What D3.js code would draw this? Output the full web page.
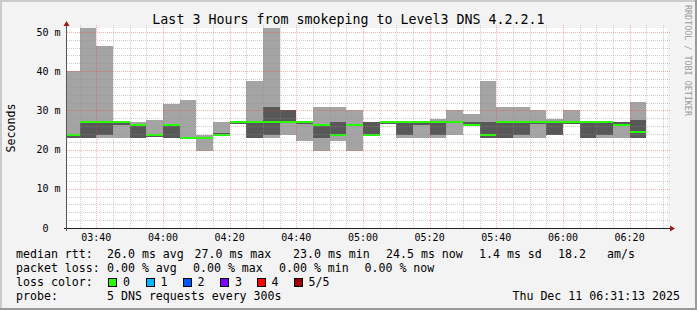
<!DOCTYPE html>
<html><head><meta charset="utf-8">
<script src="https://cdn.jsdelivr.net/npm/d3@7"></script>
<style>
body{margin:0;background:#f3f3f3}
svg{display:block}
text{font-family:"DejaVu Sans Mono",monospace;white-space:pre}
</style>
</head><body><svg id="c" width="697" height="310"></svg>
<script>
// ---- data (5 DNS requests per 300 s step; sorted ping values, ms) ----
const stepEnds = ["03:35","03:40","03:45","03:50","03:55","04:00","04:05","04:10","04:15","04:20",
  "04:25","04:30","04:35","04:40","04:45","04:50","04:55","05:00","05:05","05:10",
  "05:15","05:20","05:25","05:30","05:35","05:40","05:45","05:50","05:55","06:00",
  "06:05","06:10","06:15","06:20","06:25"];
const ping1  = [23.0,23.0,22.9,23.0,23.0,23.2,23.0,22.8,19.6,23.4, 26.4,23.0,23.0,23.7,22.3,19.6,22.3,19.6,23.4,26.4, 23.0,23.0,23.0,23.7,26.2,23.0,23.0,23.0,23.0,23.7, 26.4,23.0,23.0,23.0,23.0];
const ping2  = [23.0,23.0,23.7,26.3,23.0,23.2,23.0,22.8,22.8,23.4, 26.4,23.0,23.7,26.7,26.4,23.0,23.4,26.2,23.4,26.4, 23.7,26.3,23.7,26.8,26.2,23.0,23.0,23.7,26.4,23.7, 26.4,23.0,23.7,26.2,23.0];
const median = [23.6,27.0,27.0,27.0,26.3,23.6,26.3,23.0,23.0,23.6, 27.0,27.0,27.0,27.0,27.0,26.3,23.6,26.3,23.6,27.0, 27.0,27.0,27.0,27.0,26.3,23.6,27.0,27.0,27.0,27.0, 27.0,27.0,27.0,26.3,24.5];
const ping4  = [24.0,27.1,27.0,27.0,26.6,24.0,26.6,23.2,23.2,24.2, 27.2,27.2,30.9,30.1,27.2,26.6,27.0,26.6,27.0,27.2, 27.2,27.0,27.2,27.3,27.0,27.1,27.2,27.2,27.2,27.3, 27.2,27.2,27.2,27.1,27.6];
const ping5  = [40.0,51.5,46.4,27.2,27.0,27.6,31.6,32.6,23.6,27.0, 27.4,37.6,51.5,30.1,27.4,30.9,30.9,30.1,27.0,27.4, 27.4,27.2,27.7,30.1,29.1,37.5,30.8,30.9,30.1,27.7, 30.1,27.4,27.3,27.1,32.1];

const yTicks = [0,10,20,30,40,50];
const yTickLabels = ["0  ","10 m","20 m","30 m","40 m","50 m"];
const lossColors = ["#26ff00","#00b8ff","#0059ff","#7e00ff","#ff0000","#a10000"];
const lossLabels = ["0","1","2","3","4","5/5"];
const titleText = "Last 3 Hours from smokeping to Level3 DNS 4.2.2.1";
const rttStats = [["median rtt:",16],["26.0 ms avg",107],["27.0 ms max",194.5],["23.0 ms min",293],["24.5 ms now",386],["1.4 ms sd",479],["18.2",558],["am/s",607]];
const lossStats = [["packet loss:",16],["0.00 % avg",107],["0.00 % max",193],["0.00 % min",279],["0.00 % now",364.5]];
const lossBoxX = [108,145.5,182.5,220,256.5,293.5];

// ---- scales ----
const pt = d3.timeParse("%H:%M:%S"), pm = d3.timeParse("%H:%M");
const t0 = pt("03:31:13"), t1 = pt("06:31:13");
const x = d3.scaleTime().domain([t0,t1]).range([67,667]);
const y = d3.scaleLinear().domain([0,51]).range([228,28]);
const ends = stepEnds.map(pm);
const starts = ends.map(d => d3.timeMinute.offset(d,-5));

const svg = d3.select("#c");
// frame
svg.append("rect").attr("x",0).attr("y",0).attr("width",697).attr("height",310).attr("fill","#f3f3f3");
svg.append("rect").attr("x",0).attr("y",0).attr("width",697).attr("height",2).attr("fill","#cbcbcb");
svg.append("rect").attr("x",0).attr("y",0).attr("width",2).attr("height",310).attr("fill","#cbcbcb");
svg.append("rect").attr("x",0).attr("y",308).attr("width",697).attr("height",2).attr("fill","#999");
svg.append("rect").attr("x",695).attr("y",0).attr("width",2).attr("height",310).attr("fill","#999");

// canvas
svg.append("rect").attr("x",67).attr("y",28).attr("width",600).attr("height",200).attr("fill","#fff");
svg.append("clipPath").attr("id","cp").append("rect").attr("x",67).attr("y",28).attr("width",600).attr("height",200);

const idx = d3.range(stepEnds.length);
const g = svg.append("g").attr("clip-path","url(#cp)").attr("shape-rendering","crispEdges");
g.selectAll(".s1").data(idx).join("rect")
  .attr("x",i=>x(starts[i])).attr("width",i=>x(ends[i])-x(starts[i]))
  .attr("y",i=>y(ping5[i])).attr("height",i=>y(ping1[i])-y(ping5[i])).attr("fill","#a4a4a4");
g.selectAll(".s2").data(idx).join("rect")
  .attr("x",i=>x(starts[i])).attr("width",i=>x(ends[i])-x(starts[i]))
  .attr("y",i=>y(ping4[i])).attr("height",i=>Math.max(0,y(ping2[i])-y(ping4[i]))).attr("fill","#585858");

// grid (on top of smoke, semi-transparent)
const grid = svg.append("g").attr("shape-rendering","crispEdges");
const minorX = d3.timeMinute.every(5).range(t0,t1).filter(d=>d.getMinutes()%20!==0);
const majorX = d3.timeMinute.every(20).range(t0,t1);
const minorCol = "rgba(145,145,145,0.45)", majorCol = "rgba(255,50,50,0.4)";
grid.selectAll(".vx").data(minorX).join("line")
  .attr("x1",d=>Math.round(x(d))+0.5).attr("x2",d=>Math.round(x(d))+0.5).attr("y1",228).attr("y2",25)
  .attr("stroke",minorCol).attr("stroke-dasharray","1,1");
const minorY = d3.range(2,51,2).filter(v=>v%10!==0);
grid.selectAll(".hy").data(minorY).join("line")
  .attr("x1",67).attr("x2",670).attr("y1",d=>Math.round(y(d))+0.5).attr("y2",d=>Math.round(y(d))+0.5)
  .attr("stroke",minorCol).attr("stroke-dasharray","1,1");
grid.selectAll(".Vx").data(majorX).join("line")
  .attr("x1",d=>Math.round(x(d))+0.5).attr("x2",d=>Math.round(x(d))+0.5).attr("y1",228).attr("y2",25)
  .attr("stroke",majorCol).attr("stroke-dasharray","1,1");
grid.selectAll(".Hy").data(yTicks.filter(v=>v>0)).join("line")
  .attr("x1",67).attr("x2",670).attr("y1",d=>Math.round(y(d))+0.5).attr("y2",d=>Math.round(y(d))+0.5)
  .attr("stroke",majorCol).attr("stroke-dasharray","1,1");

// median line
g.selectAll(".md").data(idx).join("rect")
  .attr("x",i=>x(starts[i])).attr("width",i=>x(ends[i])-x(starts[i]))
  .attr("y",i=>y(median[i])-1).attr("height",2).attr("fill",lossColors[0]);

// axes
svg.append("line").attr("x1",64).attr("x2",671).attr("y1",228.5).attr("y2",228.5).attr("stroke","#222");
svg.append("line").attr("x1",66.5).attr("x2",66.5).attr("y1",231).attr("y2",25).attr("stroke","#555");
svg.append("path").attr("d","M670,225.5 L675,228.5 L670,231.5 Z").attr("fill","#9b1c1c");
svg.append("path").attr("d","M63.5,26 L66.5,21 L69.5,26 Z").attr("fill","#9b1c1c");

// tick labels
svg.selectAll(".xl").data(majorX).join("text")
  .attr("x",d=>x(d)).attr("y",241.3).attr("text-anchor","middle").attr("font-size","10px").attr("fill","#000")
  .text(d=>d3.timeFormat("%H:%M")(d));
svg.selectAll(".yl").data(yTicks).join("text")
  .attr("x",60.5).attr("y",d=>y(d)+3.6).attr("text-anchor","end").attr("font-size","10px").attr("fill","#000")
  .text((d,i)=>yTickLabels[i]);

// title, y label, watermark
svg.append("text").attr("x",348.5).attr("y",24).attr("text-anchor","middle").attr("font-size","13.3px").text(titleText);
svg.append("text").attr("transform","translate(14.5,128) rotate(-90)").attr("text-anchor","middle").attr("font-size","11.6px").text("Seconds");
svg.append("text").attr("transform","translate(684.5,5) rotate(90)").attr("font-size","8.4px").attr("fill","#9a9a9a").text("RRDTOOL / TOBI OETIKER");

// legend
const lf = "11.6px";
svg.selectAll(".r1").data(rttStats).join("text").attr("x",d=>d[1]).attr("y",258).attr("font-size",lf).text(d=>d[0]);
svg.selectAll(".r2").data(lossStats).join("text").attr("x",d=>d[1]).attr("y",272).attr("font-size",lf).text(d=>d[0]);
svg.append("text").attr("x",16).attr("y",286).attr("font-size",lf).text("loss color:");
svg.selectAll(".lb").data(lossColors).join("rect")
  .attr("x",(d,i)=>lossBoxX[i]+0.5).attr("y",278.5).attr("width",8).attr("height",8)
  .attr("fill",d=>d).attr("stroke","#000").attr("stroke-width",1).attr("shape-rendering","crispEdges");
svg.selectAll(".lt").data(lossLabels).join("text")
  .attr("x",(d,i)=>lossBoxX[i]+15).attr("y",286).attr("font-size",lf).text(d=>d);
svg.append("text").attr("x",16).attr("y",300).attr("font-size",lf).text("probe:");
svg.append("text").attr("x",107).attr("y",300).attr("font-size",lf).text("5 DNS requests every 300s");
svg.append("text").attr("x",680).attr("y",300).attr("text-anchor","end").attr("font-size",lf).text("Thu Dec 11 06:31:13 2025");
</script>
</body></html>
